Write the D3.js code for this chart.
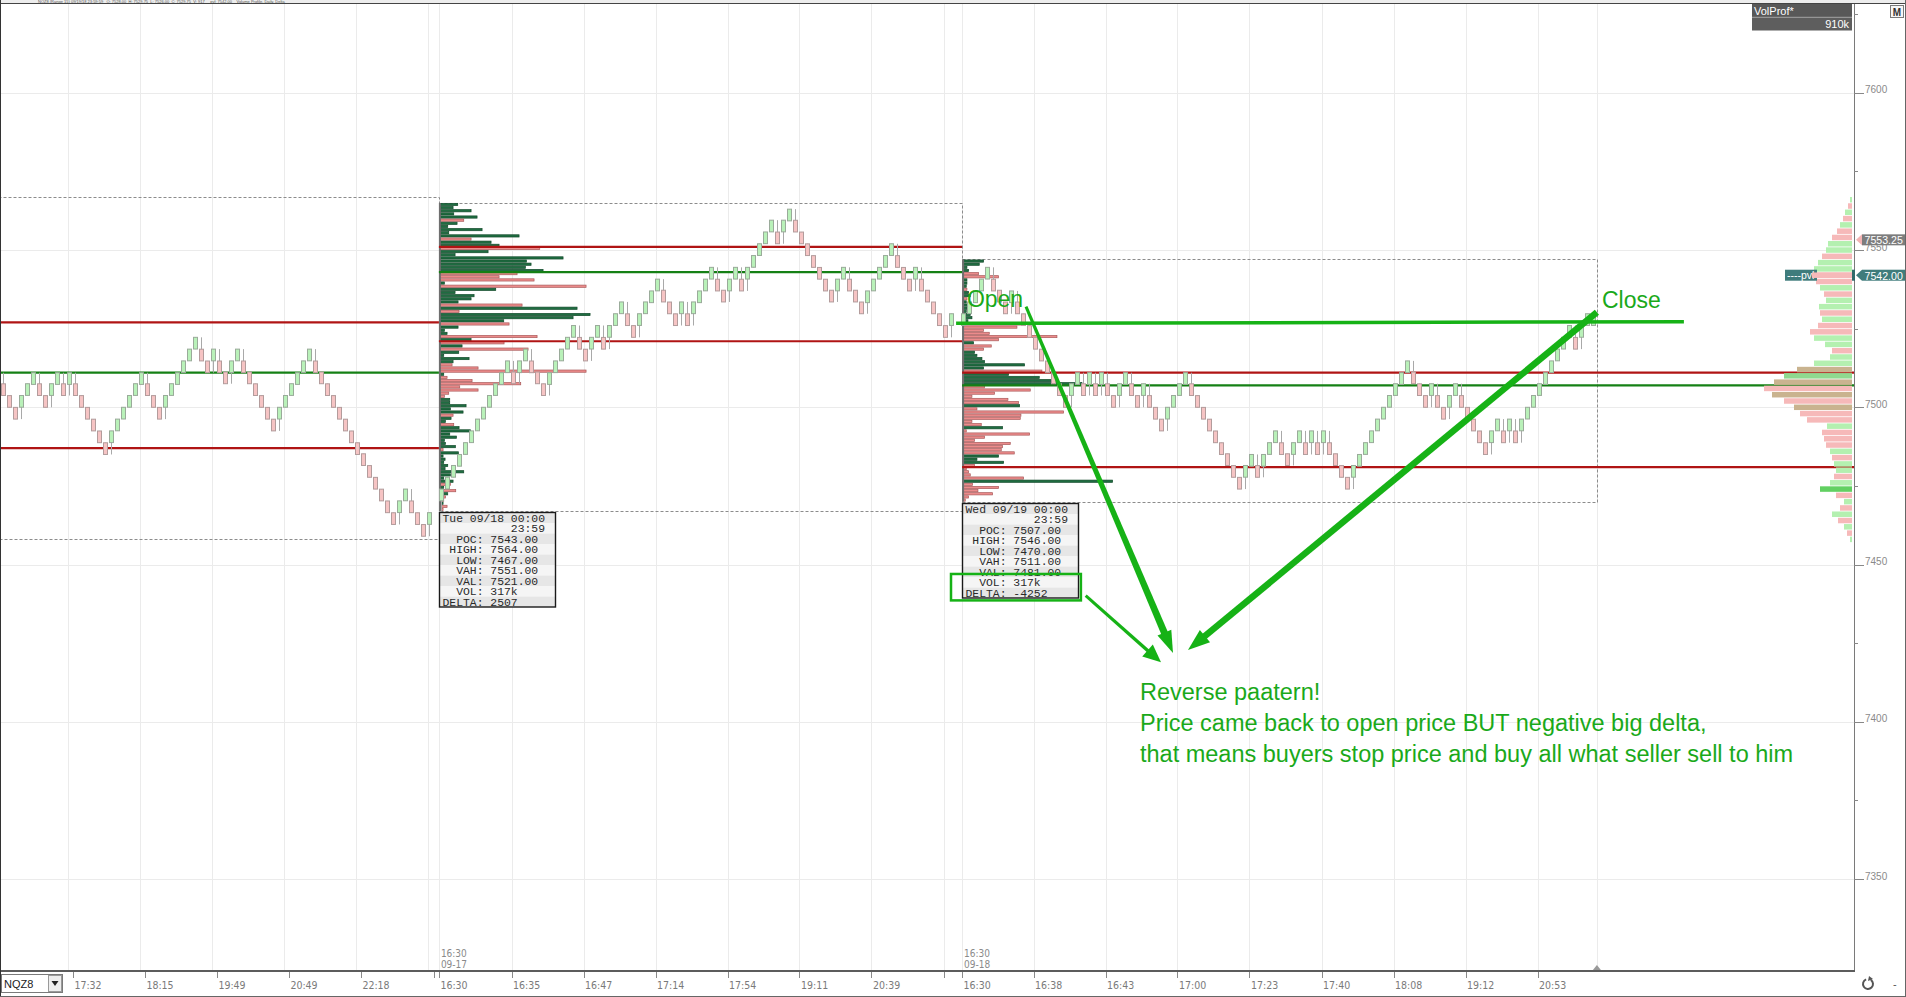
<!DOCTYPE html>
<html>
<head>
<meta charset="utf-8">
<script src="https://cdnjs.cloudflare.com/ajax/libs/d3/7.8.5/d3.min.js"></script>
<style>
html,body{margin:0;padding:0;background:#fff;overflow:hidden}
svg{display:block}
.mono{font-family:"Liberation Mono","DejaVu Sans Mono",monospace;white-space:pre}
</style>
</head>
<body>
<svg id="chart" width="1906" height="997"></svg>
<script>
// ===================== DATA =====================
const priceTicks = [7350, 7400, 7450, 7500, 7550, 7600];
const minorPriceTicks = [7375, 7425, 7475, 7525, 7575, 7625];

// time axis (bar index positions and labels)
const timeTickIndex = [11.6, 23.6, 35.6, 47.6, 59.6, 72.6, 84.7, 96.7, 108.7, 120.7, 132.7, 144.7, 159.8, 171.7, 183.7, 195.7, 207.7, 219.7, 231.7, 243.7, 255.7];
const timeTickLabels = ["17:32","18:15","19:49","20:49","22:18","16:30","16:35","16:47","17:14","17:54","19:11","20:39","16:30","16:38","16:43","17:00","17:23","17:40","18:08","19:12","20:53"];
const unlabeledTickIndex = [71.7, 156.7];
const gridIndex = [10.7, 22.7, 34.7, 46.7, 58.7, 70.7, 72.6, 84.7, 96.7, 108.7, 120.7, 132.7, 144.7, 156.7, 159.8, 171.7, 183.7, 195.7, 207.7, 219.7, 231.7, 243.7, 255.7, 265.6];
const sessionBreakIndex = [72.6, 159.8];
const sessionBreakTime = ["16:30", "16:30"];
const sessionBreakDate = ["09-17", "09-18"];
const lastBarIndex = 265.6;

// range bars (3.75 pt range) - closes
const barRange = 3.72;
const priorClose = 7511.0;
const session1Closes = [7503.75,7500,7496.25,7503.75,7507.5,7511,7503.75,7500,7507.5,7511,
7503.75,7511,7503.75,7500,7496.25,7492.5,7488.75,7485,7492.5,7496.25,
7500,7503.75,7507.5,7511,7503.75,7500,7496.25,7503.75,7507.5,7511,
7514.75,7518.5,7522.25,7514.75,7511,7518.5,7511,7507.5,7514.75,7518.5,
7511,7507.5,7503.75,7500,7496.25,7492.5,7500,7503.75,7507.5,7511,
7514.75,7518.5,7511,7507.5,7503.75,7500,7496.25,7492.5,7488.75,7485,
7481.5,7477.75,7474,7470.25,7466.5,7462.75,7470.25,7474,7466.5,7462.75,
7459,7466.5,null];
const session2Closes = [7474,7477.75,7481.5,7485,7488.75,7492.5,7496.25,7500,7503.75,7507.5,
7511,7514.75,7507.5,7514.75,7518.5,7511,7507.5,7503.75,7511,7514.75,
7518.5,7522.25,7526,7518.5,7514.75,7522.25,7526,7518.5,7526,7529.75,
7533.5,7526,7522.25,7529.75,7533.5,7537,7540.75,7533.5,7529.75,7526,
7533.5,7526,7533.5,7537,7540.75,7544.5,7537,7533.5,7540.75,7544.5,
7537,7544.5,7548.25,7552,7555.75,7559.5,7552,7559.5,7563,7555.75,
7552,7548.25,7544.5,7540.75,7537,7533.5,7540.75,7544.5,7537,7533.5,
7529.75,7537,7540.75,7544.5,7548.25,7552,7544.5,7540.75,7537,7544.5,
7537,7533.5,7529.75,7526,7522.25,7529.75,null];
const session3Closes = [7529.75,7533.5,7537,7540.75,7544.5,7537,7533.5,7529.75,7537,7529.75,
7526,7522.25,7518.5,7514.75,7511,7507.5,7503.75,7500,7507.5,7511,
7503.75,7511,7503.75,7511,7503.75,7500,7507.5,7511,7503.75,7500,
7507.5,7500,7496.25,7492.5,7500,7503.75,7507.5,7511,7503.75,7500,
7496.25,7492.5,7488.75,7485,7481.5,7477.75,7474,7481.5,7485,7477.75,
7485,7488.75,7492.5,7485,7481.5,7488.75,7492.5,7485,7492.5,7485,
7492.5,7485,7481.5,7477.75,7474,7481.5,7485,7488.75,7492.5,7496.25,
7500,7503.75,7507.5,7511,7514.75,7507.5,7503.75,7500,7507.5,7500,
7496.25,7503.75,7507.5,7500,7496.25,7492.5,7488.75,7485,7492.5,7496.25,
7488.75,7496.25,7488.75,7496.25,7500,7503.75,7507.5,7511,7514.75,7518.5,
7522.25,7526,7518.5,7526,7529.75,7529.75];

// sessions
const sessionStartIndex = [-60, 72.6, 159.8];
const sessionEndIndex = [72.6, 159.8, 265.6];
const sessionLineEndIndex = [72.6, 159.8, 308.5];
const sessionDay = ["Mon 09/17", "Tue 09/18", "Wed 09/19"];
const sessionHigh = [7566, 7564, 7546];
const sessionLow = [7458, 7467, 7470];
const sessionPOC = [7511, 7543, 7507];
const sessionVAH = [7527, 7551, 7511];
const sessionVAL = [7487, 7521, 7481];
const sessionVolume = ["", "317k", "317k"];
const sessionDelta = [0, 2507, -4252];

// session volume profiles (1 pt rows from session high down)
const profile2Vol = [520,380,920,400,1100,700,500,220,1250,250,
2360,920,1520,1760,2980,1430,440,3680,2580,2720,
2550,3080,2300,1760,2810,120,4370,1660,440,1010,
920,530,2450,4100,560,4490,3980,1900,2060,530,
120,200,2900,920,1910,650,2630,550,100,860,
380,350,1130,4370,100,200,950,2410,580,1130,
250,120,280,280,770,300,680,380,320,150,
400,560,900,280,480,120,150,450,80,540,
80,140,100,220,140,700,300,100,380,300,
100,460,220,150,100,80,200,80];
const profile2Side = "gggggrgggggrggrgggggggrrrgrgggggrgrgggrgggrgrgrggggrrrgrrrrrrrgggggrggrgggggggrggggggggggrgrgrrgrr";
const profile3Vol = [600,470,100,150,450,1050,100,100,80,100,
150,200,100,80,150,100,80,200,250,130,
1750,1600,600,770,2800,1050,300,830,600,330,
400,550,630,1830,600,2350,1350,2270,2650,3550,
630,2000,930,250,1330,1650,1680,400,3000,1720,
1700,250,530,1170,80,1980,630,330,1400,1170,
1130,1520,1050,400,1200,330,80,150,200,1800,
4470,270,1050,430,870,150,50];
const profile3Side = "ggggrrgggrggrgggggggrrrrrrgrrggggggrggggrrrrrrgrrrrrrgrrrrrrrrgggrrrrrgrrrrrr";

// composite profile (right side, 2 pt rows)
const compositePrices = [7566,7564,7562,7560,7558,7556,7554,7552,7550,7548,7546,7544,7542,7540,7538,7536,7534,7532,7530,7528,7526,7524,7522,7520,7518,7516,7514,7512,7510,7508,7506,7504,7502,7500,7498,7496,7494,7492,7490,7488,7486,7484,7482,7480,7478,7476,7474,7472,7470,7468,7466,7464,7462,7460,7458];
const compositeVol = [200,400,700,900,1200,1500,2000,2400,2600,3000,3400,3800,4000,3600,3200,2800,2600,3300,3200,3000,3400,4200,3800,2700,2000,2200,3800,5500,6800,7800,8800,8000,6800,5800,5200,4500,2500,3000,2800,2600,2200,2000,1800,1600,1800,2200,3200,1600,800,1200,2000,1400,800,500,200];
const compositeTone = "grgrgrrggrggrrgrggrgrrggrggmdmrmrmrrgrrrgrggrgGrgrgrgrg";
const compositeTotal = "910k";
const lastPrice = 7553.25;
const pvlPrice = 7542.00;

// user drawings (bar index, price)
const openLine = [[158.8, 7526.7], [280.1, 7527.2]];
const arrowFrom = [[170.45, 7532.0], [265.6, 7530.2], [180.4, 7440.1]];
const arrowTo   = [[194.95, 7421.9], [197.45, 7422.8], [192.95, 7418.9]];
const highlightBox = [[157.95, 7447.0], [179.6, 7438.6]];
const openLabel = {text: "Open", at: [160.6, 7531.9]};
const closeLabel = {text: "Close", at: [266.45, 7531.6]};
const noteAnchor = [189.45, 7406.9];
const noteLines = ["Reverse paatern!", "Price came back to open price BUT negative big delta,", "that means buyers stop price and buy all what seller sell to him"];
const headerText = "NQZ8 (Range 15) 09/19/18 23:59:59   O: 7528.00  H: 7529.75  L: 7526.00  C: 7529.75  V: 917     pvl: 7542.00    Volume Profile, Daily, Delta";

// ===================== CHART =====================
const W = 1906, H = 997, plotTop = 4, axisY = 971, axisX = 1854;
const x = d3.scaleLinear().domain([0, 308.5]).range([3.3, 1854.3]);
const y = d3.scaleLinear().domain([7350, 7600]).range([879.05, 92.8]);
const volX = d3.scaleLinear().domain([0, 3000]).range([0, 100]);
const compX = d3.scaleLinear().domain([0, 10000]).range([0, 100]);

const GREEN_DRAW = "#16b216", GREEN_TEXT = "#1aa91a";
const svg = d3.select("#chart");
svg.append("rect").attr("width", W).attr("height", H).attr("fill", "#fff");
const defs = svg.append("defs");
defs.append("clipPath").attr("id", "plotClip").append("rect")
  .attr("x", 1).attr("y", plotTop).attr("width", axisX - 1).attr("height", axisY - plotTop);

const plot = svg.append("g").attr("clip-path", "url(#plotClip)");

// grid
plot.append("g").selectAll("line").data(priceTicks).join("line")
  .attr("x1", 0).attr("x2", axisX).attr("y1", d => Math.round(y(d)) + 0.5).attr("y2", d => Math.round(y(d)) + 0.5)
  .attr("stroke", "#ebebeb");
plot.append("g").selectAll("line").data(gridIndex).join("line")
  .attr("x1", d => Math.round(x(d)) + 0.5).attr("x2", d => Math.round(x(d)) + 0.5)
  .attr("y1", plotTop).attr("y2", axisY).attr("stroke", "#ebebeb");

// session boxes
const sessIdx = [0, 1, 2];
plot.append("g").selectAll("rect").data(sessIdx).join("rect")
  .attr("x", i => Math.round(x(sessionStartIndex[i])) + 0.5)
  .attr("y", i => Math.round(y(sessionHigh[i] + 1)) + 0.5)
  .attr("width", i => Math.round(x(sessionEndIndex[i])) - Math.round(x(sessionStartIndex[i])))
  .attr("height", i => Math.round(y(sessionLow[i])) - Math.round(y(sessionHigh[i] + 1)))
  .attr("fill", "none").attr("stroke", "#8c8c8c").attr("stroke-dasharray", "3,2");

// session profiles
function drawProfile(si, vols, sides) {
  const g = plot.append("g");
  const x0 = x(sessionStartIndex[si]) + 1.5;
  vols.forEach((v, r) => {
    const p = sessionHigh[si] - r;
    const top = y(p + 1), h = y(p) - y(p + 1);
    const up = sides[r] === "g";
    g.append("rect").attr("x", x0).attr("y", top + 0.45).attr("width", Math.max(1, volX(v))).attr("height", h - 0.9)
      .attr("fill", up ? "#1f6d41" : "#ec8b8b").attr("stroke", up ? "#134a2b" : "#a85a5a").attr("stroke-width", 0.7);
  });
  g.append("line").attr("x1", x0 - 0.5).attr("x2", x0 - 0.5)
    .attr("y1", y(sessionHigh[si] + 1)).attr("y2", y(sessionLow[si]))
    .attr("stroke", "#6e6e6e").attr("stroke-width", 2);
}
drawProfile(1, profile2Vol, profile2Side);
drawProfile(2, profile3Vol, profile3Side);

// session level lines
const levelG = plot.append("g");
sessIdx.forEach(i => {
  const x1 = Math.max(0, x(sessionStartIndex[i])), x2 = x(sessionLineEndIndex[i]);
  [[sessionVAH[i], "#b01414"], [sessionPOC[i], "#158015"], [sessionVAL[i], "#b01414"]].forEach(([p, c]) => {
    levelG.append("line").attr("x1", x1).attr("x2", x2).attr("y1", y(p)).attr("y2", y(p))
      .attr("stroke", c).attr("stroke-width", 2.2);
  });
});

// composite profile
const toneColor = {g: "#b4f0b0", r: "#f6b9b9", m: "#c9b38f", d: "#8fd98f", G: "#62d062"};
const compG = plot.append("g");
function drawComposite(g, filter) {
  compositePrices.forEach((p, i) => {
    if (!filter(p)) return;
    const w = compX(compositeVol[i]);
    g.append("rect").attr("x", 1852 - w).attr("y", y(p + 1) + 0.4).attr("width", w)
      .attr("height", y(p - 1) - y(p + 1) - 0.8).attr("fill", toneColor[compositeTone[i]]);
  });
}
drawComposite(compG, () => true);

// candles
const allCloses = [...session1Closes, ...session2Closes, ...session3Closes];
const candles = [];
let prev = priorClose;
allCloses.forEach((c, i) => {
  if (c == null) return;
  const up = c >= prev;
  const open = up ? c - barRange : c + barRange;
  candles.push({i, c, open, up, hi: Math.max(open, c, prev), lo: Math.min(open, c, prev)});
  prev = c;
});
const cg = plot.append("g");
cg.selectAll("line").data(candles).join("line")
  .attr("x1", d => Math.round(x(d.i)) + 0.5).attr("x2", d => Math.round(x(d.i)) + 0.5)
  .attr("y1", d => y(d.hi)).attr("y2", d => y(d.lo)).attr("stroke", "#a9a9a9");
cg.selectAll("rect").data(candles).join("rect")
  .attr("x", d => Math.round(x(d.i)) - 1.5).attr("width", 4)
  .attr("y", d => y(Math.max(d.open, d.c))).attr("height", d => Math.abs(y(d.open) - y(d.c)))
  .attr("fill", d => d.up ? "#b9f1b9" : "#f6c4c4").attr("stroke", d => d.up ? "#9aab9a" : "#b39c9c");

// info boxes
const lineH = 10.5;
[1, 2].forEach(i => {
  const bx = Math.round(x(sessionStartIndex[i])) + 0.5, by = Math.round(y(sessionLow[i])) + 1.5;
  const lines = [
    `${sessionDay[i]} 00:00`,
    `          23:59`,
    `  POC: ${sessionPOC[i].toFixed(2)}`,
    ` HIGH: ${sessionHigh[i].toFixed(2)}`,
    `  LOW: ${sessionLow[i].toFixed(2)}`,
    `  VAH: ${sessionVAH[i].toFixed(2)}`,
    `  VAL: ${sessionVAL[i].toFixed(2)}`,
    `  VOL: ${sessionVolume[i]}`,
    `DELTA: ${sessionDelta[i]}`
  ];
  const g = plot.append("g");
  lines.forEach((t, k) => {
    g.append("rect").attr("x", bx).attr("y", by + k * lineH).attr("width", 116).attr("height", lineH)
      .attr("fill", k % 2 === 0 ? "#e6e6e6" : "#f5f5f5");
  });
  g.append("rect").attr("x", bx).attr("y", by).attr("width", 116).attr("height", lineH * lines.length)
    .attr("fill", "none").attr("stroke", "#1a1a1a").attr("stroke-width", 1.4);
  g.selectAll("text").data(lines).join("text").attr("class", "mono")
    .attr("xml:space", "preserve")
    .attr("x", bx + 3).attr("y", (d, k) => by + k * lineH + 9)
    .attr("font-size", 11.4).attr("fill", "#2a2a2a").text(d => d);
});

// session break labels
sessionBreakIndex.forEach((bi, k) => {
  const t = plot.append("text").attr("x", x(bi) + 2).attr("y", 957)
    .attr("font-family", "Liberation Sans Narrow, DejaVu Sans Condensed, Liberation Sans, sans-serif")
    .attr("font-size", 10).attr("fill", "#8a8a8a");
  t.append("tspan").attr("x", x(bi) + 2).attr("y", 957).text(sessionBreakTime[k]);
  t.append("tspan").attr("x", x(bi) + 2).attr("y", 968).text(sessionBreakDate[k]);
});

// user drawings
const ann = plot.append("g");
ann.append("line").attr("x1", x(openLine[0][0])).attr("y1", y(openLine[0][1]))
  .attr("x2", x(openLine[1][0])).attr("y2", y(openLine[1][1]))
  .attr("stroke", GREEN_DRAW).attr("stroke-width", 3.5);
const arrowStyle = [{w0: 3, w1: 7, hl: 22, hw: 7.5}, {w0: 6.5, w1: 6.5, hl: 22, hw: 8}, {w0: 3, w1: 3.5, hl: 18, hw: 8}];
arrowFrom.forEach((f, k) => {
  const x1 = x(f[0]), y1 = y(f[1]), x2 = x(arrowTo[k][0]), y2 = y(arrowTo[k][1]);
  const dx = x2 - x1, dy = y2 - y1, L = Math.hypot(dx, dy), ux = dx / L, uy = dy / L, nx = -uy, ny = ux;
  const s = arrowStyle[k];
  const bxp = x2 - ux * s.hl, byp = y2 - uy * s.hl;
  const shaft = [[x1 + nx * s.w0 / 2, y1 + ny * s.w0 / 2], [bxp + ux * 2 + nx * s.w1 / 2, byp + uy * 2 + ny * s.w1 / 2],
                 [bxp + ux * 2 - nx * s.w1 / 2, byp + uy * 2 - ny * s.w1 / 2], [x1 - nx * s.w0 / 2, y1 - ny * s.w0 / 2]];
  ann.append("polygon").attr("points", shaft.map(p => p.join(",")).join(" ")).attr("fill", GREEN_DRAW);
  const head = [[x2, y2], [bxp + nx * s.hw, byp + ny * s.hw], [bxp - nx * s.hw, byp - ny * s.hw]];
  ann.append("polygon").attr("points", head.map(p => p.join(",")).join(" ")).attr("fill", GREEN_DRAW);
});
ann.append("rect").attr("x", x(highlightBox[0][0])).attr("y", y(highlightBox[0][1]))
  .attr("width", x(highlightBox[1][0]) - x(highlightBox[0][0])).attr("height", y(highlightBox[1][1]) - y(highlightBox[0][1]))
  .attr("fill", "none").attr("stroke", GREEN_DRAW).attr("stroke-width", 2.5);
[openLabel, closeLabel].forEach(l => {
  ann.append("text").attr("x", x(l.at[0])).attr("y", y(l.at[1]))
    .attr("font-family", "Liberation Sans, Arial, sans-serif").attr("font-size", 23).attr("fill", GREEN_TEXT).text(l.text);
});
ann.selectAll("text.note").data(noteLines).join("text").attr("class", "note")
  .attr("x", x(noteAnchor[0])).attr("y", (d, k) => y(noteAnchor[1]) + k * 31)
  .attr("font-family", "Liberation Sans, Arial, sans-serif").attr("font-size", 23.5).attr("fill", GREEN_TEXT).text(d => d);

// ---- right price axis ----
const ra = svg.append("g");
ra.append("line").attr("x1", axisX + 0.5).attr("x2", axisX + 0.5).attr("y1", plotTop).attr("y2", axisY).attr("stroke", "#7a7a7a");
ra.selectAll("line.maj").data(priceTicks).join("line").attr("class", "maj")
  .attr("x1", axisX).attr("x2", axisX + 10).attr("y1", d => Math.round(y(d)) + 0.5).attr("y2", d => Math.round(y(d)) + 0.5).attr("stroke", "#888");
ra.selectAll("line.min").data(minorPriceTicks).join("line").attr("class", "min")
  .attr("x1", axisX).attr("x2", axisX + 4).attr("y1", d => Math.round(y(d)) + 0.5).attr("y2", d => Math.round(y(d)) + 0.5).attr("stroke", "#888");
ra.selectAll("text").data(priceTicks).join("text")
  .attr("x", axisX + 11).attr("y", d => y(d) + 0.5)
  .attr("font-family", "Liberation Sans, Arial, sans-serif").attr("font-size", 10).attr("fill", "#8a8a8a").text(d => d);

// price tags
function priceTag(p, fill, arrowFill, label) {
  const cy = y(p);
  ra.append("polygon").attr("points", `${axisX + 2},${cy} ${axisX + 8},${cy - 5.5} ${axisX + 8},${cy + 5.5}`).attr("fill", arrowFill);
  ra.append("rect").attr("x", axisX + 8).attr("y", cy - 5.5).attr("width", W - axisX - 9).attr("height", 11).attr("fill", fill);
  ra.append("text").attr("x", axisX + 10.5).attr("y", cy + 4.3).attr("font-family", "Liberation Sans, Arial, sans-serif")
    .attr("font-size", 10.6).attr("fill", "#fff").text(label);
}
priceTag(lastPrice, "#7d7d7d", "#f4b4b4", lastPrice.toFixed(2));
priceTag(pvlPrice, "#3f7c7c", "#3f7c7c", pvlPrice.toFixed(2));
ra.append("rect").attr("x", axisX - 2).attr("y", y(pvlPrice) - 5.5).attr("width", 3).attr("height", 11).attr("fill", "#2f6a6a");
// pvl tag inside plot, overlaid by the composite bars
const pvlG = svg.append("g");
pvlG.append("rect").attr("x", 1785).attr("y", y(pvlPrice) - 5.5).attr("width", 32).attr("height", 11).attr("fill", "#3f7c7c");
pvlG.append("text").attr("x", 1787).attr("y", y(pvlPrice) + 4).attr("font-family", "Liberation Sans, Arial, sans-serif")
  .attr("font-size", 10.5).attr("fill", "#fff").text("----pvl");
drawComposite(svg.append("g").attr("clip-path", "url(#plotClip)"), p => Math.abs(p - pvlPrice) <= 1);

// VolProf box
const vp = svg.append("g");
vp.append("rect").attr("x", 1752).attr("y", 4).attr("width", 100).attr("height", 13).attr("fill", "#585858");
vp.append("rect").attr("x", 1752).attr("y", 17.5).attr("width", 100).attr("height", 13).attr("fill", "#5e5e5e");
vp.append("line").attr("x1", 1752).attr("x2", 1852).attr("y1", 17.2).attr("y2", 17.2).attr("stroke", "#8a8a8a");
vp.append("text").attr("x", 1754).attr("y", 14.5).attr("font-family", "Liberation Sans, Arial, sans-serif").attr("font-size", 11).attr("fill", "#fff").text("VolProf*");
vp.append("text").attr("x", 1849).attr("y", 28).attr("text-anchor", "end").attr("font-family", "Liberation Sans, Arial, sans-serif").attr("font-size", 11).attr("fill", "#fff").text(compositeTotal);
// M button
vp.append("rect").attr("x", 1890.5).attr("y", 5.5).attr("width", 13).attr("height", 12).attr("fill", "#f6f6f6").attr("stroke", "#7a7a7a");
vp.append("text").attr("x", 1897).attr("y", 15.5).attr("text-anchor", "middle").attr("font-family", "Liberation Sans, Arial, sans-serif").attr("font-size", 10).attr("font-weight", "bold").attr("fill", "#333").text("M");

// ---- bottom time axis ----
const ba = svg.append("g");
ba.append("line").attr("x1", 0).attr("x2", axisX + 1).attr("y1", axisY).attr("y2", axisY).attr("stroke", "#5c5c5c").attr("stroke-width", 2);
ba.selectAll("line.t").data([...timeTickIndex, ...unlabeledTickIndex]).join("line").attr("class", "t")
  .attr("x1", d => Math.round(x(d)) + 0.5).attr("x2", d => Math.round(x(d)) + 0.5).attr("y1", axisY + 1).attr("y2", axisY + 7).attr("stroke", "#8a8a8a");
ba.selectAll("text").data(timeTickIndex).join("text")
  .attr("x", d => x(d) + 1.5).attr("y", 989)
  .attr("font-family", "Liberation Sans Narrow, DejaVu Sans Condensed, Liberation Sans, sans-serif")
  .attr("font-size", 10.5).attr("fill", "#7a7a7a").text((d, i) => timeTickLabels[i]);
// last bar marker
ba.append("polygon").attr("points", `${x(lastBarIndex) - 4},${axisY - 1} ${x(lastBarIndex) + 4},${axisY - 1} ${x(lastBarIndex)},${axisY - 6}`).attr("fill", "#9a9a9a");
// symbol box
ba.append("rect").attr("x", 1.5).attr("y", 974.5).attr("width", 61).attr("height", 18).attr("fill", "#fff").attr("stroke", "#7a7a7a");
ba.append("text").attr("x", 4).attr("y", 988).attr("font-family", "Liberation Sans, Arial, sans-serif").attr("font-size", 11).attr("fill", "#222").text("NQZ8");
ba.append("rect").attr("x", 48.5).attr("y", 975.5).attr("width", 13).attr("height", 16).attr("fill", "#eeeeee").attr("stroke", "#9a9a9a");
ba.append("polygon").attr("points", "51.5,981 58.5,981 55,986").attr("fill", "#222");
// bottom right controls
ba.append("path").attr("d", d3.arc()({innerRadius: 4, outerRadius: 6, startAngle: 0.6, endAngle: 5.9}))
  .attr("transform", "translate(1868,984)").attr("fill", "#555");
ba.append("polygon").attr("points", "1869,976 1873,979 1868,981").attr("fill", "#555");
ba.append("text").attr("x", 1893).attr("y", 988).attr("font-family", "Liberation Sans, Arial, sans-serif").attr("font-size", 11).attr("fill", "#555").text("-");

// ---- header strip & frame ----
svg.append("rect").attr("x", 0).attr("y", 0).attr("width", W).attr("height", 3.5).attr("fill", "#ededed");
svg.append("text").attr("x", 38).attr("y", 3.1)
  .attr("font-family", "Liberation Sans, Arial, sans-serif").attr("font-size", 4).attr("fill", "#555")
  .attr("xml:space", "preserve").style("white-space", "pre").text(headerText);
svg.append("line").attr("x1", 0).attr("x2", W).attr("y1", 3.5).attr("y2", 3.5).attr("stroke", "#444");
svg.append("line").attr("x1", 0.5).attr("x2", 0.5).attr("y1", 0).attr("y2", H).attr("stroke", "#333");
svg.append("line").attr("x1", W - 0.5).attr("x2", W - 0.5).attr("y1", 0).attr("y2", H).attr("stroke", "#666");
svg.append("line").attr("x1", 0).attr("x2", W).attr("y1", H - 0.5).attr("y2", H - 0.5).attr("stroke", "#666");
</script>
</body>
</html>
